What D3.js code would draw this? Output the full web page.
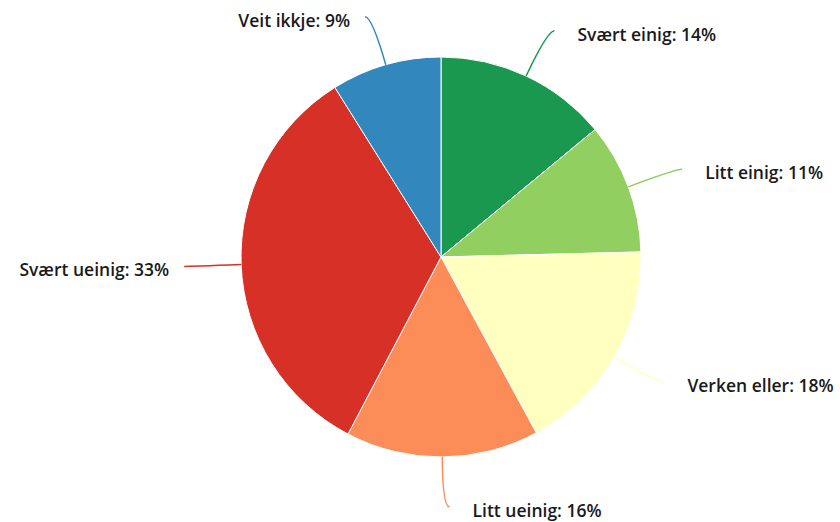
<!DOCTYPE html>
<html>
<head>
<meta charset="utf-8">
<script src="https://cdn.jsdelivr.net/npm/d3@7"></script>
<style>
  body { margin: 0; background: #fff; }
  .label { font-family: "Open Sans", sans-serif; font-weight: 600; font-size: 17.5px; fill: #1a1a1a; }
</style>
</head>
<body>
<div id="chart"></div>
<script>
const FRAME_WIDTH = 840;
const FRAME_HEIGHT = 522;
const CX = 441, CY = 257, RADIUS = 200;
const LABEL_DIST = 50;

// answers, clockwise from the top
const categories = ["Svært einig", "Litt einig", "Verken eller", "Litt ueinig", "Svært ueinig", "Veit ikkje"];
const shares = [14.0, 10.6, 17.5, 15.6, 33.4, 8.9];
const colors = ["#1a9850", "#91cf60", "#ffffbf", "#fc8d59", "#d73027", "#3288bd"];

const data = categories.map((c, i) => ({name: c, value: shares[i], color: colors[i]}));
const total = d3.sum(shares);

const FRAME = d3.select("#chart")
  .append("svg")
    .attr("width", FRAME_WIDTH)
    .attr("height", FRAME_HEIGHT);

const pie = d3.pie().sort(null).value(d => d.value);
const arc = d3.arc().innerRadius(0).outerRadius(RADIUS);
const arcs = pie(data);

const g = FRAME.append("g").attr("transform", `translate(${CX},${CY})`);

g.selectAll("path.slice")
  .data(arcs)
  .enter()
  .append("path")
    .attr("class", "slice")
    .attr("d", arc)
    .attr("fill", d => d.data.color)
    .attr("stroke", "#fff")
    .attr("stroke-width", 1);

// label geometry, highcharts style
const R = RADIUS + LABEL_DIST;
arcs.forEach(d => {
  const a = (d.startAngle + d.endAngle) / 2;
  const side = a <= Math.PI ? 1 : -1;
  const ly = -Math.cos(a) * R;
  const bx = side * Math.sqrt(Math.max(0, R * R - ly * ly));
  d.touch = [Math.sin(a) * RADIUS, -Math.cos(a) * RADIUS];
  d.ctrl = [bx, ly];
  d.end = [bx + side * 7, ly];
  d.side = side;
});

g.selectAll("path.connector")
  .data(arcs)
  .enter()
  .append("path")
    .attr("class", "connector")
    .attr("d", d => `M${d.end[0]},${d.end[1]}Q${d.ctrl[0]},${d.ctrl[1]} ${d.touch[0]},${d.touch[1]}`)
    .attr("fill", "none")
    .attr("stroke", d => d.data.color)
    .attr("stroke-width", 1.5);

g.selectAll("text.label")
  .data(arcs)
  .enter()
  .append("text")
    .attr("class", "label")
    .attr("x", d => d.end[0] + (d.side > 0 ? 23 : -15))
    .attr("y", d => d.end[1] + 10)
    .attr("text-anchor", d => d.side > 0 ? "start" : "end")
    .text(d => `${d.data.name}: ${Math.round(d.data.value / total * 100)}%`);
</script>
</body>
</html>
